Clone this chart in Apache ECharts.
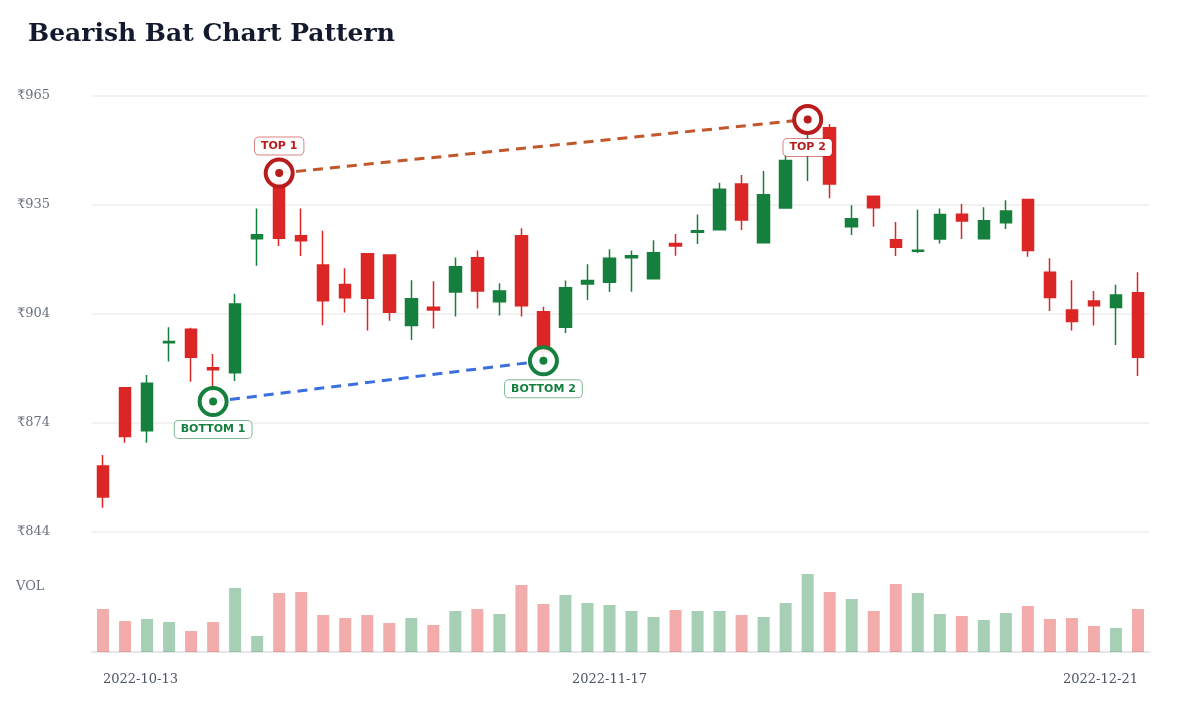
<!DOCTYPE html>
<html>
<head>
<meta charset="utf-8">
<script src="https://cdn.jsdelivr.net/npm/echarts@6/dist/echarts.min.js"></script>
<style>
  html, body { margin: 0; padding: 0; background: #fff; }
  #main { width: 1200px; height: 720px; }
</style>
</head>
<body>
<div id="main"></div>
<script type="text/javascript">
// trading days shown on the chart
var dates = [
  '2022-10-13','2022-10-14','2022-10-17','2022-10-18','2022-10-19','2022-10-20','2022-10-21',
  '2022-10-24','2022-10-25','2022-10-27','2022-10-28','2022-10-31','2022-11-01','2022-11-02',
  '2022-11-03','2022-11-04','2022-11-07','2022-11-09','2022-11-10','2022-11-11','2022-11-14',
  '2022-11-15','2022-11-16','2022-11-17','2022-11-18','2022-11-21','2022-11-22','2022-11-23',
  '2022-11-24','2022-11-25','2022-11-28','2022-11-29','2022-11-30','2022-12-01','2022-12-02',
  '2022-12-05','2022-12-06','2022-12-07','2022-12-08','2022-12-09','2022-12-12','2022-12-13',
  '2022-12-14','2022-12-15','2022-12-16','2022-12-19','2022-12-20','2022-12-21'
];
var opens  = [862.2,883.9,872.0,896.4,900.2,889.5,888.1,925.3,940.8,926.1,918.0,912.6,921.1,920.8,
              901.2,906.3,910.5,920.0,907.8,926.1,905.0,900.7,912.7,913.2,920.0,914.2,924.0,927.1,
              927.8,940.5,924.2,933.8,949.9,956.1,928.6,937.1,925.0,921.8,925.2,932.1,925.3,929.7,
              936.2,916.0,905.5,908.0,906.2,910.3];
var closes = [853.6,870.4,885.2,896.8,892.4,888.9,907.2,926.4,925.4,924.7,908.1,908.9,908.8,904.9,
              908.6,905.5,917.5,910.8,910.8,906.7,893.9,911.7,913.7,919.9,920.6,921.4,923.3,927.5,
              939.0,930.5,937.5,947.0,951.3,940.5,930.8,933.9,922.9,922.1,932.0,930.2,930.3,933.0,
              922.0,909.0,902.3,906.7,909.7,892.4];
var lows   = [850.6,868.7,868.7,891.2,885.6,880.1,885.8,917.8,923.3,920.5,901.3,904.8,899.8,902.5,
              897.2,900.4,903.7,905.9,904.0,903.7,891.4,899.1,908.3,910.5,910.6,914.2,920.6,923.8,
              927.8,927.7,924.2,933.8,941.3,936.5,926.3,928.6,920.5,921.3,924.0,925.2,925.3,928.0,
              920.3,905.2,899.8,901.2,895.8,887.2];
var highs  = [865.3,884.0,887.5,900.7,900.6,893.3,910.0,933.7,943.5,933.7,927.5,917.1,921.3,921.0,
              913.8,913.5,920.1,922.0,912.9,928.2,906.4,913.7,918.2,922.4,922.0,924.9,926.6,932.0,
              940.8,943.0,944.1,948.5,958.4,957.1,934.6,937.2,929.9,933.3,933.7,934.9,934.0,936.0,
              936.4,919.9,913.8,910.8,912.5,916.0];
var volumes = [1290000,930000,990000,900000,630000,900000,1920000,480000,1770000,1800000,1110000,1020000,
               1110000,870000,1020000,810000,1230000,1290000,1140000,2010000,1440000,1710000,1470000,1410000,
               1230000,1050000,1260000,1230000,1230000,1110000,1050000,1470000,2340000,1800000,1590000,1230000,
               2040000,1770000,1140000,1080000,960000,1170000,1380000,990000,1020000,780000,720000,1290000];

// pattern pivots: [index, price]
var topPoints = [[8, 943.5], [32, 958.4]];
var bottomPoints = [[5, 880.1], [20, 891.4]];
var topNames = ['TOP 1', 'TOP 2'];
var bottomNames = ['BOTTOM 1', 'BOTTOM 2'];

var UP = '#15803d', DOWN = '#dc2626';
var TOPC = '#b91c1c', BOTC = '#15803d';
var serif = '"DejaVu Serif", serif';
var sans = '"DejaVu Sans", sans-serif';

var candleData = dates.map(function (d, i) {
  return [opens[i], closes[i], lows[i], highs[i]];
});
var volData = volumes.map(function (v, i) {
  var up = closes[i] >= opens[i];
  return { value: v, itemStyle: { color: up ? 'rgba(21,128,61,0.38)' : 'rgba(220,38,38,0.38)' } };
});

function pivotItems(points, names, labelPos, dist, col, border) {
  return points.map(function (p, i) {
    return {
      value: p,
      label: {
        show: true,
        formatter: names[i],
        position: labelPos[i],
        distance: dist[i],
        fontFamily: sans,
        fontSize: 11,
        fontWeight: 'bold',
        color: col,
        backgroundColor: '#fff',
        borderColor: border,
        borderWidth: 1,
        borderRadius: 4,
        padding: [3, 6, 3, 6]
      }
    };
  });
}

var myChart = echarts.init(document.getElementById('main'));
var option = {
  animation: false,
  backgroundColor: '#fff',
  textStyle: { fontFamily: serif },
  title: [
    {
      text: 'Bearish Bat Chart Pattern',
      left: 28, top: 22, padding: 0,
      textStyle: { fontFamily: serif, fontSize: 25, fontWeight: 'bold', color: '#141a2e' }
    },
    {
      text: 'VOL',
      left: 16, top: 580, padding: 0,
      textStyle: { fontFamily: serif, fontSize: 13, fontWeight: 'normal', color: '#6b7280' }
    }
  ],
  grid: [
    { left: 92, right: 51, top: 96, height: 436 },
    { left: 92, right: 51, top: 574, height: 78 }
  ],
  xAxis: [
    {
      type: 'category', data: dates, gridIndex: 0, boundaryGap: true,
      axisLine: { show: false }, axisTick: { show: false }, axisLabel: { show: false },
      splitLine: { show: false }
    },
    {
      type: 'category', data: dates, gridIndex: 1, boundaryGap: true,
      axisLine: { show: true, lineStyle: { color: '#e5e7eb', width: 2 } },
      axisTick: { show: false },
      axisLabel: {
        interval: function (i) { return i === 0 || i === 23 || i === dates.length - 1; },
        alignMinLabel: 'left', alignMaxLabel: 'right',
        margin: 21, fontSize: 13, color: '#4b5563', fontFamily: serif
      },
      splitLine: { show: false }
    }
  ],
  yAxis: [
    {
      type: 'value', gridIndex: 0, min: 843.9, max: 964.9, interval: 30.25,
      axisLine: { show: false }, axisTick: { show: false },
      axisLabel: {
        margin: 42, fontSize: 13, color: '#6b7280', fontFamily: serif,
        formatter: function (v) { return '₹' + Math.round(v); }
      },
      splitLine: { lineStyle: { color: '#eeeeee', width: 1.5 } }
    },
    {
      type: 'value', gridIndex: 1, min: 0, max: 2340000,
      axisLine: { show: false }, axisTick: { show: false }, axisLabel: { show: false },
      splitLine: { show: false }
    }
  ],
  series: [
    {
      name: 'Price', type: 'candlestick', xAxisIndex: 0, yAxisIndex: 0,
      data: candleData, barWidth: 12, z: 2,
      itemStyle: { color: UP, color0: DOWN, borderColor: UP, borderColor0: DOWN, borderWidth: 1.5 }
    },
    {
      name: 'Volume', type: 'bar', xAxisIndex: 1, yAxisIndex: 1,
      data: volData, barWidth: 12
    },
    {
      name: 'Top line', type: 'line', data: topPoints, symbol: 'none', z: 3,
      lineStyle: { color: '#c2572b', width: 3, type: [10, 7] }
    },
    {
      name: 'Bottom line', type: 'line', data: bottomPoints, symbol: 'none', z: 3,
      lineStyle: { color: '#3b6fe0', width: 3, type: [10, 7] }
    },
    {
      name: 'Tops', type: 'scatter', symbol: 'circle', symbolSize: 27, z: 4,
      itemStyle: { color: 'rgba(255,255,255,0.92)', borderColor: TOPC, borderWidth: 4, opacity: 1 },
      data: pivotItems(topPoints, topNames, ['top', 'bottom'], [3, 4], TOPC, 'rgba(185,28,28,0.55)')
    },
    {
      name: 'Bottoms', type: 'scatter', symbol: 'circle', symbolSize: 27, z: 4,
      itemStyle: { color: 'rgba(255,255,255,0.92)', borderColor: BOTC, borderWidth: 4, opacity: 1 },
      data: pivotItems(bottomPoints, bottomNames, ['bottom', 'bottom'], [4, 4], BOTC, 'rgba(21,128,61,0.55)')
    },
    {
      name: 'Top dots', type: 'scatter', symbol: 'circle', symbolSize: 8, z: 5,
      itemStyle: { color: TOPC, opacity: 1 }, data: topPoints
    },
    {
      name: 'Bottom dots', type: 'scatter', symbol: 'circle', symbolSize: 8, z: 5,
      itemStyle: { color: BOTC, opacity: 1 }, data: bottomPoints
    }
  ]
};
myChart.setOption(option);
</script>
</body>
</html>
